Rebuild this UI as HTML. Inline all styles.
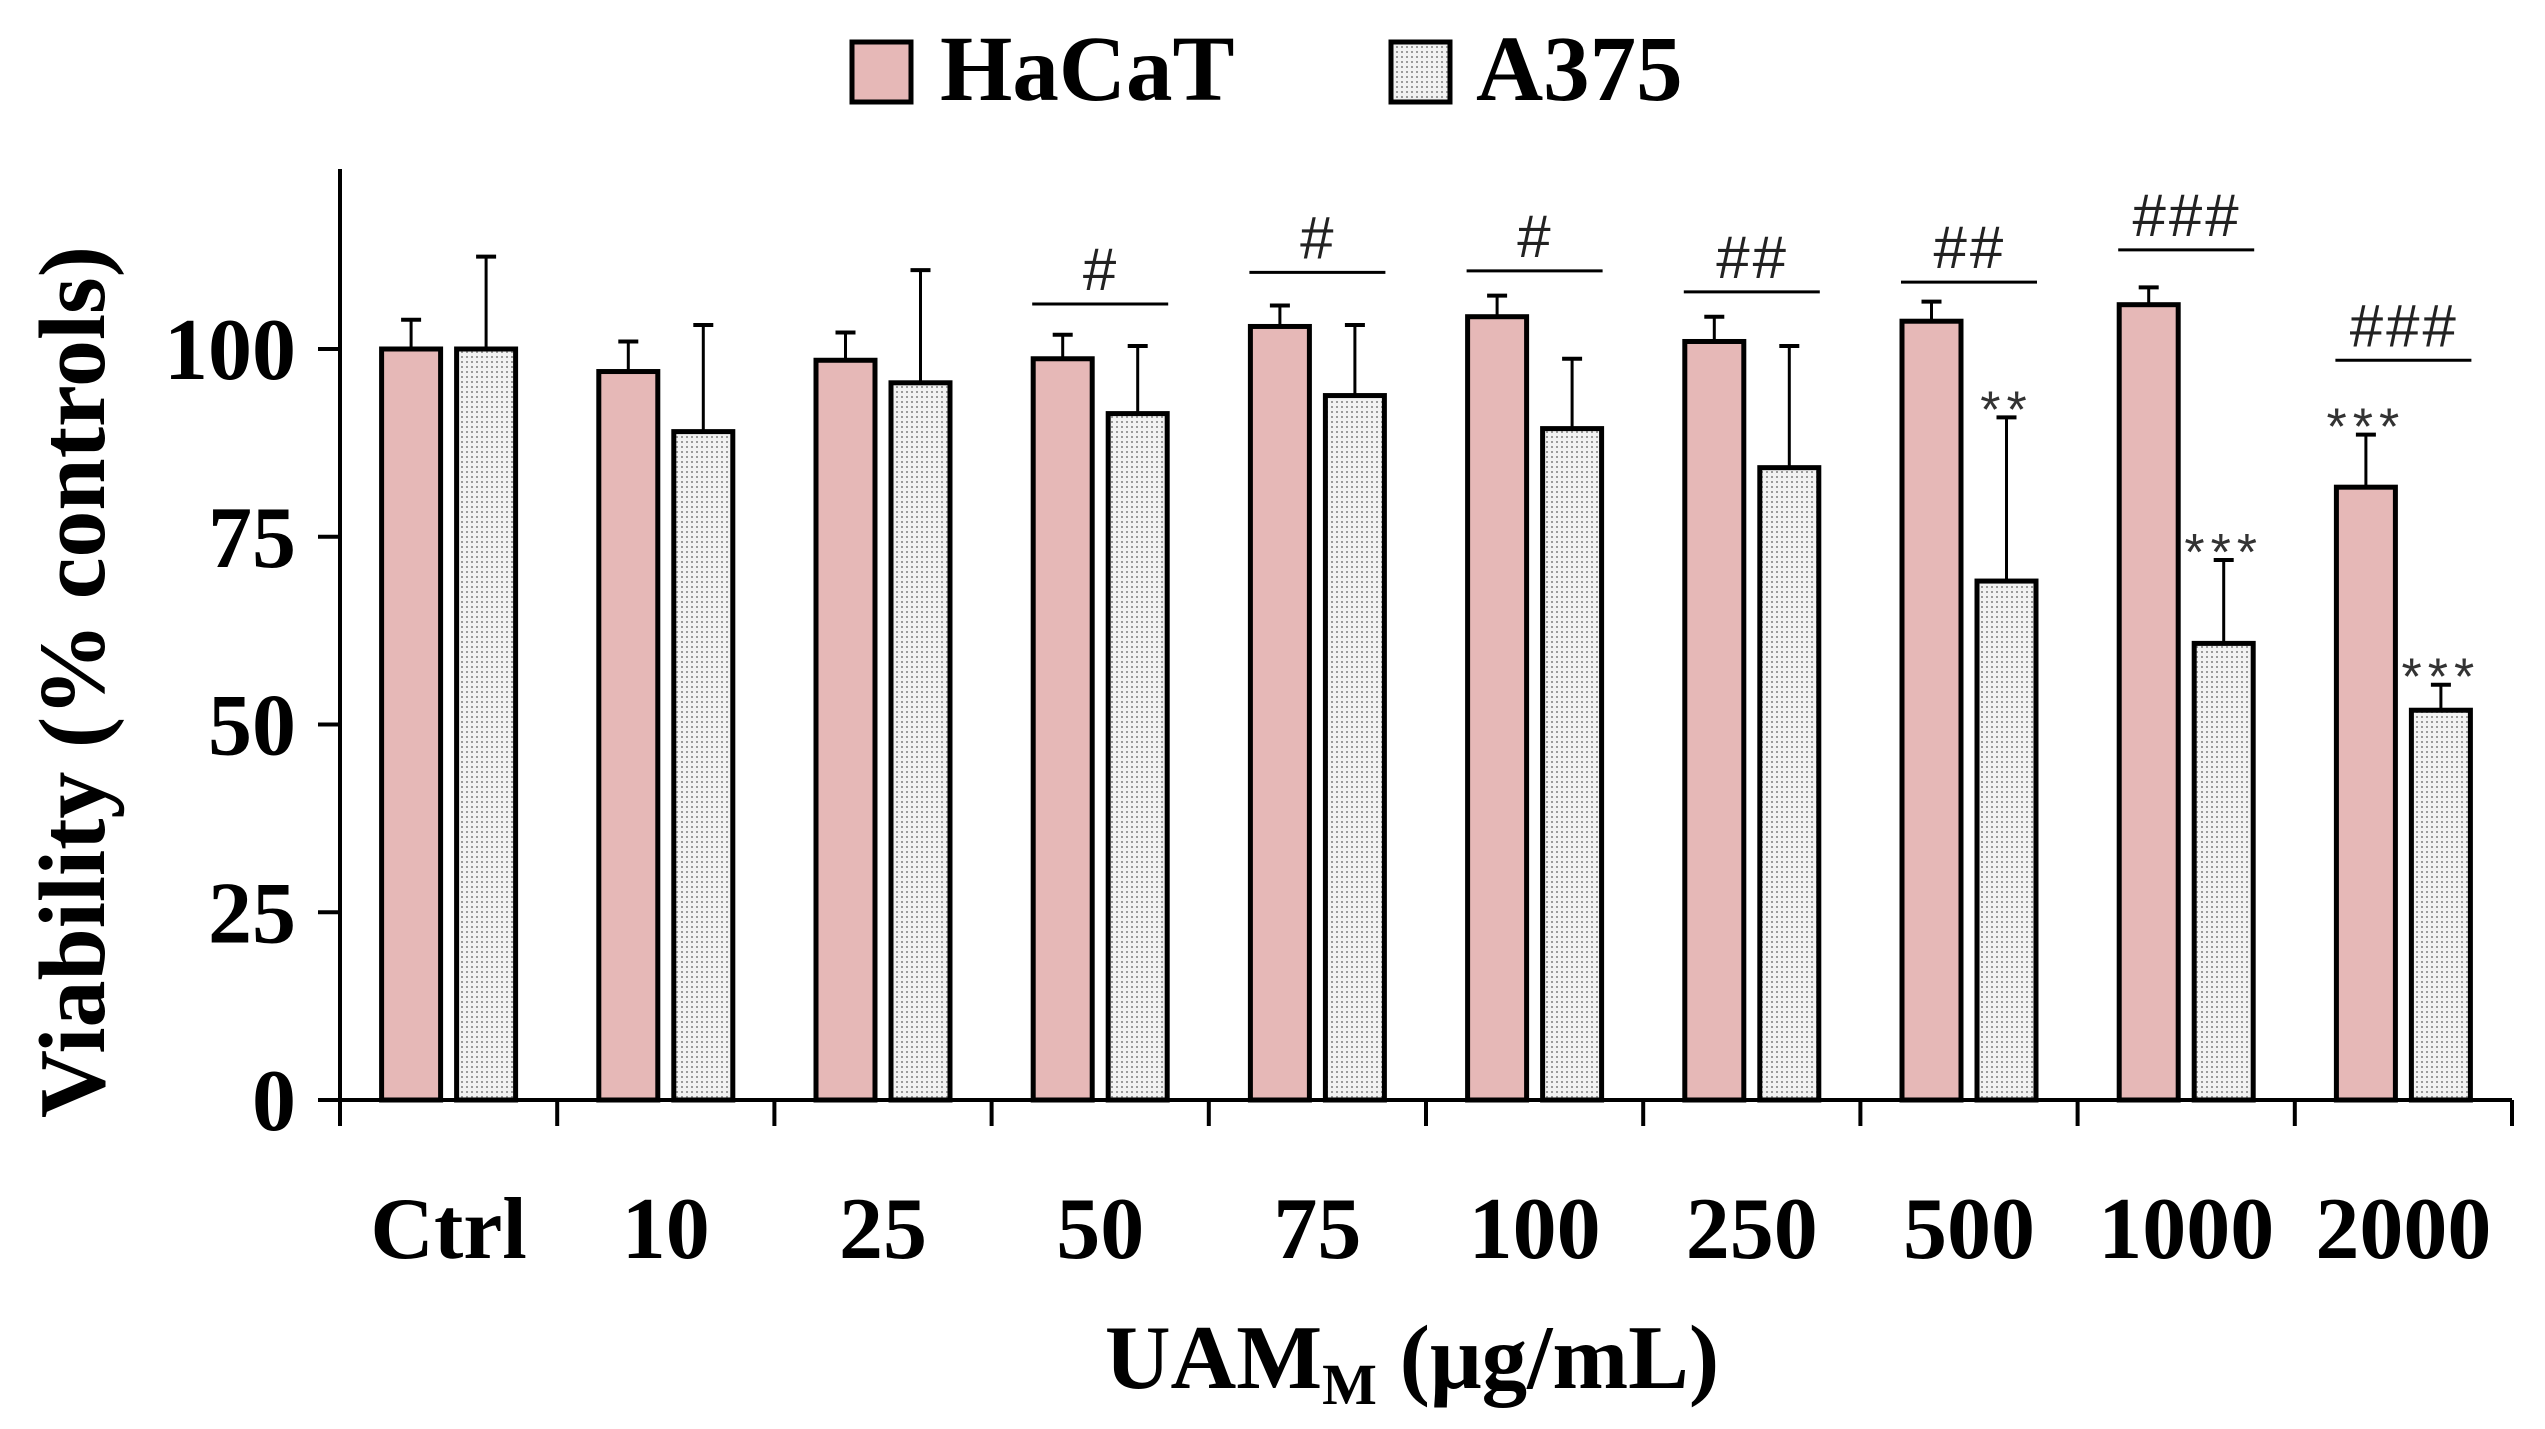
<!DOCTYPE html>
<html><head><meta charset="utf-8"><style>
html,body{margin:0;padding:0;background:#fff;}
svg{display:block;}
text{font-family:"Liberation Serif",serif;font-weight:bold;fill:#000;}
</style></head><body>
<svg id="chart" width="2545" height="1429" viewBox="0 0 2545 1429" xmlns="http://www.w3.org/2000/svg">
<defs>
<pattern id="dots" width="5" height="5" patternUnits="userSpaceOnUse">
<rect width="5" height="5" fill="#f2f2f2"/>
<rect x="1" y="1" width="2" height="2" fill="#9a9a9a"/>
</pattern>
</defs>
<g id="legend">
<rect x="852" y="42" width="59" height="60" fill="#e6b8b7" stroke="#000" stroke-width="5"/>
<text x="940" y="100" font-size="93">HaCaT</text>
<rect x="1391" y="42" width="59" height="60" fill="url(#dots)" stroke="#000" stroke-width="5"/>
<text x="1476" y="100" font-size="93">A375</text>
</g>
<g id="axes"></g>
<g id="bars"></g>
<g id="annot"></g>
<text transform="translate(104,682) rotate(-90)" text-anchor="middle" font-size="94">Viability (% controls)</text>
<text x="1412" y="1388" text-anchor="middle" font-size="91">UAM<tspan font-size="58" dy="16">M</tspan><tspan dy="-16"> (μg/mL)</tspan></text>
</svg>
<script>
const categories = ["Ctrl","10","25","50","75","100","250","500","1000","2000"];
const hacat = [100,97,98.5,98.7,103,104.3,101,103.7,105.9,81.6];
const hacatErr = [3.9,4,3.7,3.2,2.8,2.8,3.3,2.6,2.3,7];
const a375 = [100,89,95.5,91.4,93.8,89.4,84.2,69.1,60.8,51.9];
const a375Err = [12.3,14.2,15,9,9.4,9.3,16.2,21.8,11.1,3.4];
const sigLabels = ["","","","#","#","#","##","##","###","###"];
const sigLevel = [0,0,0,106,110.2,110.4,107.6,108.9,113.2,98.5];
const hacatStars = ["","","","","","","","","","***"];
const a375Stars = ["","","","","","","","**","***","***"];
const yTicks = [0,25,50,75,100];

const NS="http://www.w3.org/2000/svg";
const x0=340, groupW=217.2, y0=1100, yScale=7.51, barW=59, gap=16;
const yPos=v=>y0-v*yScale;
const gx=i=>x0+i*groupW;
const gc=i=>gx(i)+groupW/2;
function mk(tag,attrs,parent,txt){const e=document.createElementNS(NS,tag);for(const k in attrs)e.setAttribute(k,attrs[k]);if(txt!==undefined)e.textContent=txt;parent.appendChild(e);return e;}
const axes=document.getElementById('axes'),bars=document.getElementById('bars'),annot=document.getElementById('annot');
let e;
e=mk('line',{x1:x0,y1:169,x2:x0,y2:1126,stroke:'#000','stroke-width':4},axes);


e=mk('line',{x1:x0,y1:y0,x2:gx(categories.length),y2:y0,stroke:'#000','stroke-width':4},axes);


yTicks.forEach(t=>{
  e=mk('line',{x1:x0-22,y1:yPos(t),x2:x0,y2:yPos(t),stroke:'#000','stroke-width':4},axes);
  
  
  e=mk('text',{x:x0-44,y:yPos(t)+30,'text-anchor':'end','font-size':88},axes,String(t));
  
  
});
for(let i=0;i<=categories.length;i++){
  e=mk('line',{x1:gx(i),y1:y0,x2:gx(i),y2:1126,stroke:'#000','stroke-width':4},axes);
  
  
}
categories.forEach((c,i)=>{
  e=mk('text',{x:gc(i),y:1258,'text-anchor':'middle','font-size':88},axes,c);
  
  
  const series=[[hacat,hacatErr,'#e6b8b7',hacatStars,-1,'hacat'],[a375,a375Err,'url(#dots)',a375Stars,1,'a375']];
  series.forEach(([vals,errs,fill,stars,side,nm])=>{
    const bx=side<0?gc(i)-gap/2-barW:gc(i)+gap/2;
    const cx=bx+barW/2;
    const top=yPos(vals[i]+errs[i]);
    e=mk('line',{x1:cx,y1:yPos(vals[i]),x2:cx,y2:top,stroke:'#000','stroke-width':3},bars);
    
    
    e=mk('line',{x1:cx-10,y1:top,x2:cx+10,y2:top,stroke:'#000','stroke-width':4},bars);
    
    
    e=mk('rect',{x:bx,y:yPos(vals[i]),width:barW,height:vals[i]*yScale,fill:fill,stroke:'#000','stroke-width':5},bars);
    
    
    if(stars[i]){
      e=mk('text',{x:cx,y:top+10,'text-anchor':'middle','font-size':52,'letter-spacing':'6'},annot,stars[i]);
      e.setAttribute('style','font-weight:normal;font-family:"Liberation Sans",sans-serif;fill:#333');
      
      
    }
  });
  if(sigLabels[i]){
    const ly=yPos(sigLevel[i]);
    e=mk('line',{x1:gc(i)-68,y1:ly,x2:gc(i)+68,y2:ly,stroke:'#000','stroke-width':3},annot);
    
    
    e=mk('text',{x:gc(i),y:ly-14,'text-anchor':'middle','font-size':60,'letter-spacing':'3'},annot,sigLabels[i]);
    e.setAttribute('style','font-weight:normal;font-style:italic;font-family:"Liberation Sans",sans-serif;fill:#222');
    
    
  }
});
</script>
</body></html>
